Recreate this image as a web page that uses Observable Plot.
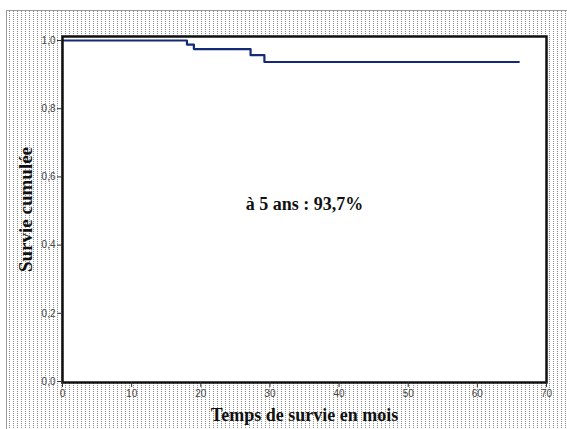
<!DOCTYPE html>
<html>
<head>
<meta charset="utf-8">
<script src="https://cdn.jsdelivr.net/npm/d3@7"></script>
<script src="https://cdn.jsdelivr.net/npm/@observablehq/plot@0.6"></script>
<style>
  html, body { margin: 0; padding: 0; background: white; width: 567px; height: 429px; overflow: hidden; }
  #bg {
    position: absolute; left: 6px; top: 10px; width: 561px; height: 419px;
    box-sizing: border-box; border-top: 1px solid #999; border-left: 1px solid #999;
    background-color: white;
    background-image:
      linear-gradient(0deg, white 1px, transparent 1px),
      linear-gradient(90deg, #8a8a8a 1px, transparent 1px);
    background-size: 4px 2px, 4px 4px;
    background-position: 2px 0, 2px 0;
  }
  #chart { position: absolute; left: 0; top: 0; }
</style>
</head>
<body>
<div id="bg"></div>
<div id="chart"></div>
<script>
const times = [0, 18, 19, 27.2, 29.2, 66];
const survival = [1.0, 0.988, 0.975, 0.957, 0.937, 0.937];
const xTicks = [0, 10, 20, 30, 40, 50, 60, 70];
const yTicks = [0, 0.2, 0.4, 0.6, 0.8, 1.0];
const xLabel = "Temps de survie en mois";
const yLabel = "Survie cumulée";
const annotation = "à 5 ans : 93,7%";
const annoPos = {t: 35, s: 0.52};

const data = times.map((t, i) => ({t, s: survival[i]}));
const comma = d => d.toFixed(1).replace(".", ",");
const serif = "'Liberation Serif', 'Times New Roman', serif";

const plot = Plot.plot({
  width: 567,
  height: 429,
  marginLeft: 62,
  marginTop: 36,
  marginRight: 21,
  marginBottom: 47,
  style: {background: "transparent", fontFamily: "'Liberation Sans', Arial, sans-serif", fontSize: "10px", color: "#444"},
  x: {domain: [0, 70], ticks: xTicks, tickSize: 5, tickPadding: 2, label: null},
  y: {domain: [0, 1], ticks: yTicks, tickFormat: comma, tickSize: 5, tickPadding: 2, label: null, insetTop: 4, insetBottom: 1},
  marks: [
    Plot.frame({fill: "white", stroke: "none"}),
    Plot.line(data, {x: "t", y: "s", curve: "step-after", stroke: "#142a78", strokeWidth: 2.2}),
    Plot.text([annotation], {x: () => annoPos.t, y: () => annoPos.s, text: d => d, fontFamily: serif, fontWeight: "bold", fontSize: 18, fill: "#111"}),
    Plot.frame({stroke: "#111", strokeWidth: 2.5}),
    Plot.axisX({ticks: xTicks, tickSize: 5, tickPadding: 2, label: null, stroke: "#333"}),
    Plot.axisY({ticks: yTicks, tickFormat: comma, tickSize: 5, tickPadding: 2, label: null, stroke: "#333"}),
    Plot.text([xLabel], {frameAnchor: "bottom", dy: 38, text: d => d, fontFamily: serif, fontWeight: "bold", fontSize: 18, fill: "#111"}),
    Plot.text([yLabel], {frameAnchor: "left", dx: -37, rotate: -90, textAnchor: "middle", text: d => d, fontFamily: serif, fontWeight: "bold", fontSize: 19, fill: "#111"})
  ]
});
document.getElementById("chart").appendChild(plot);
</script>
</body>
</html>
